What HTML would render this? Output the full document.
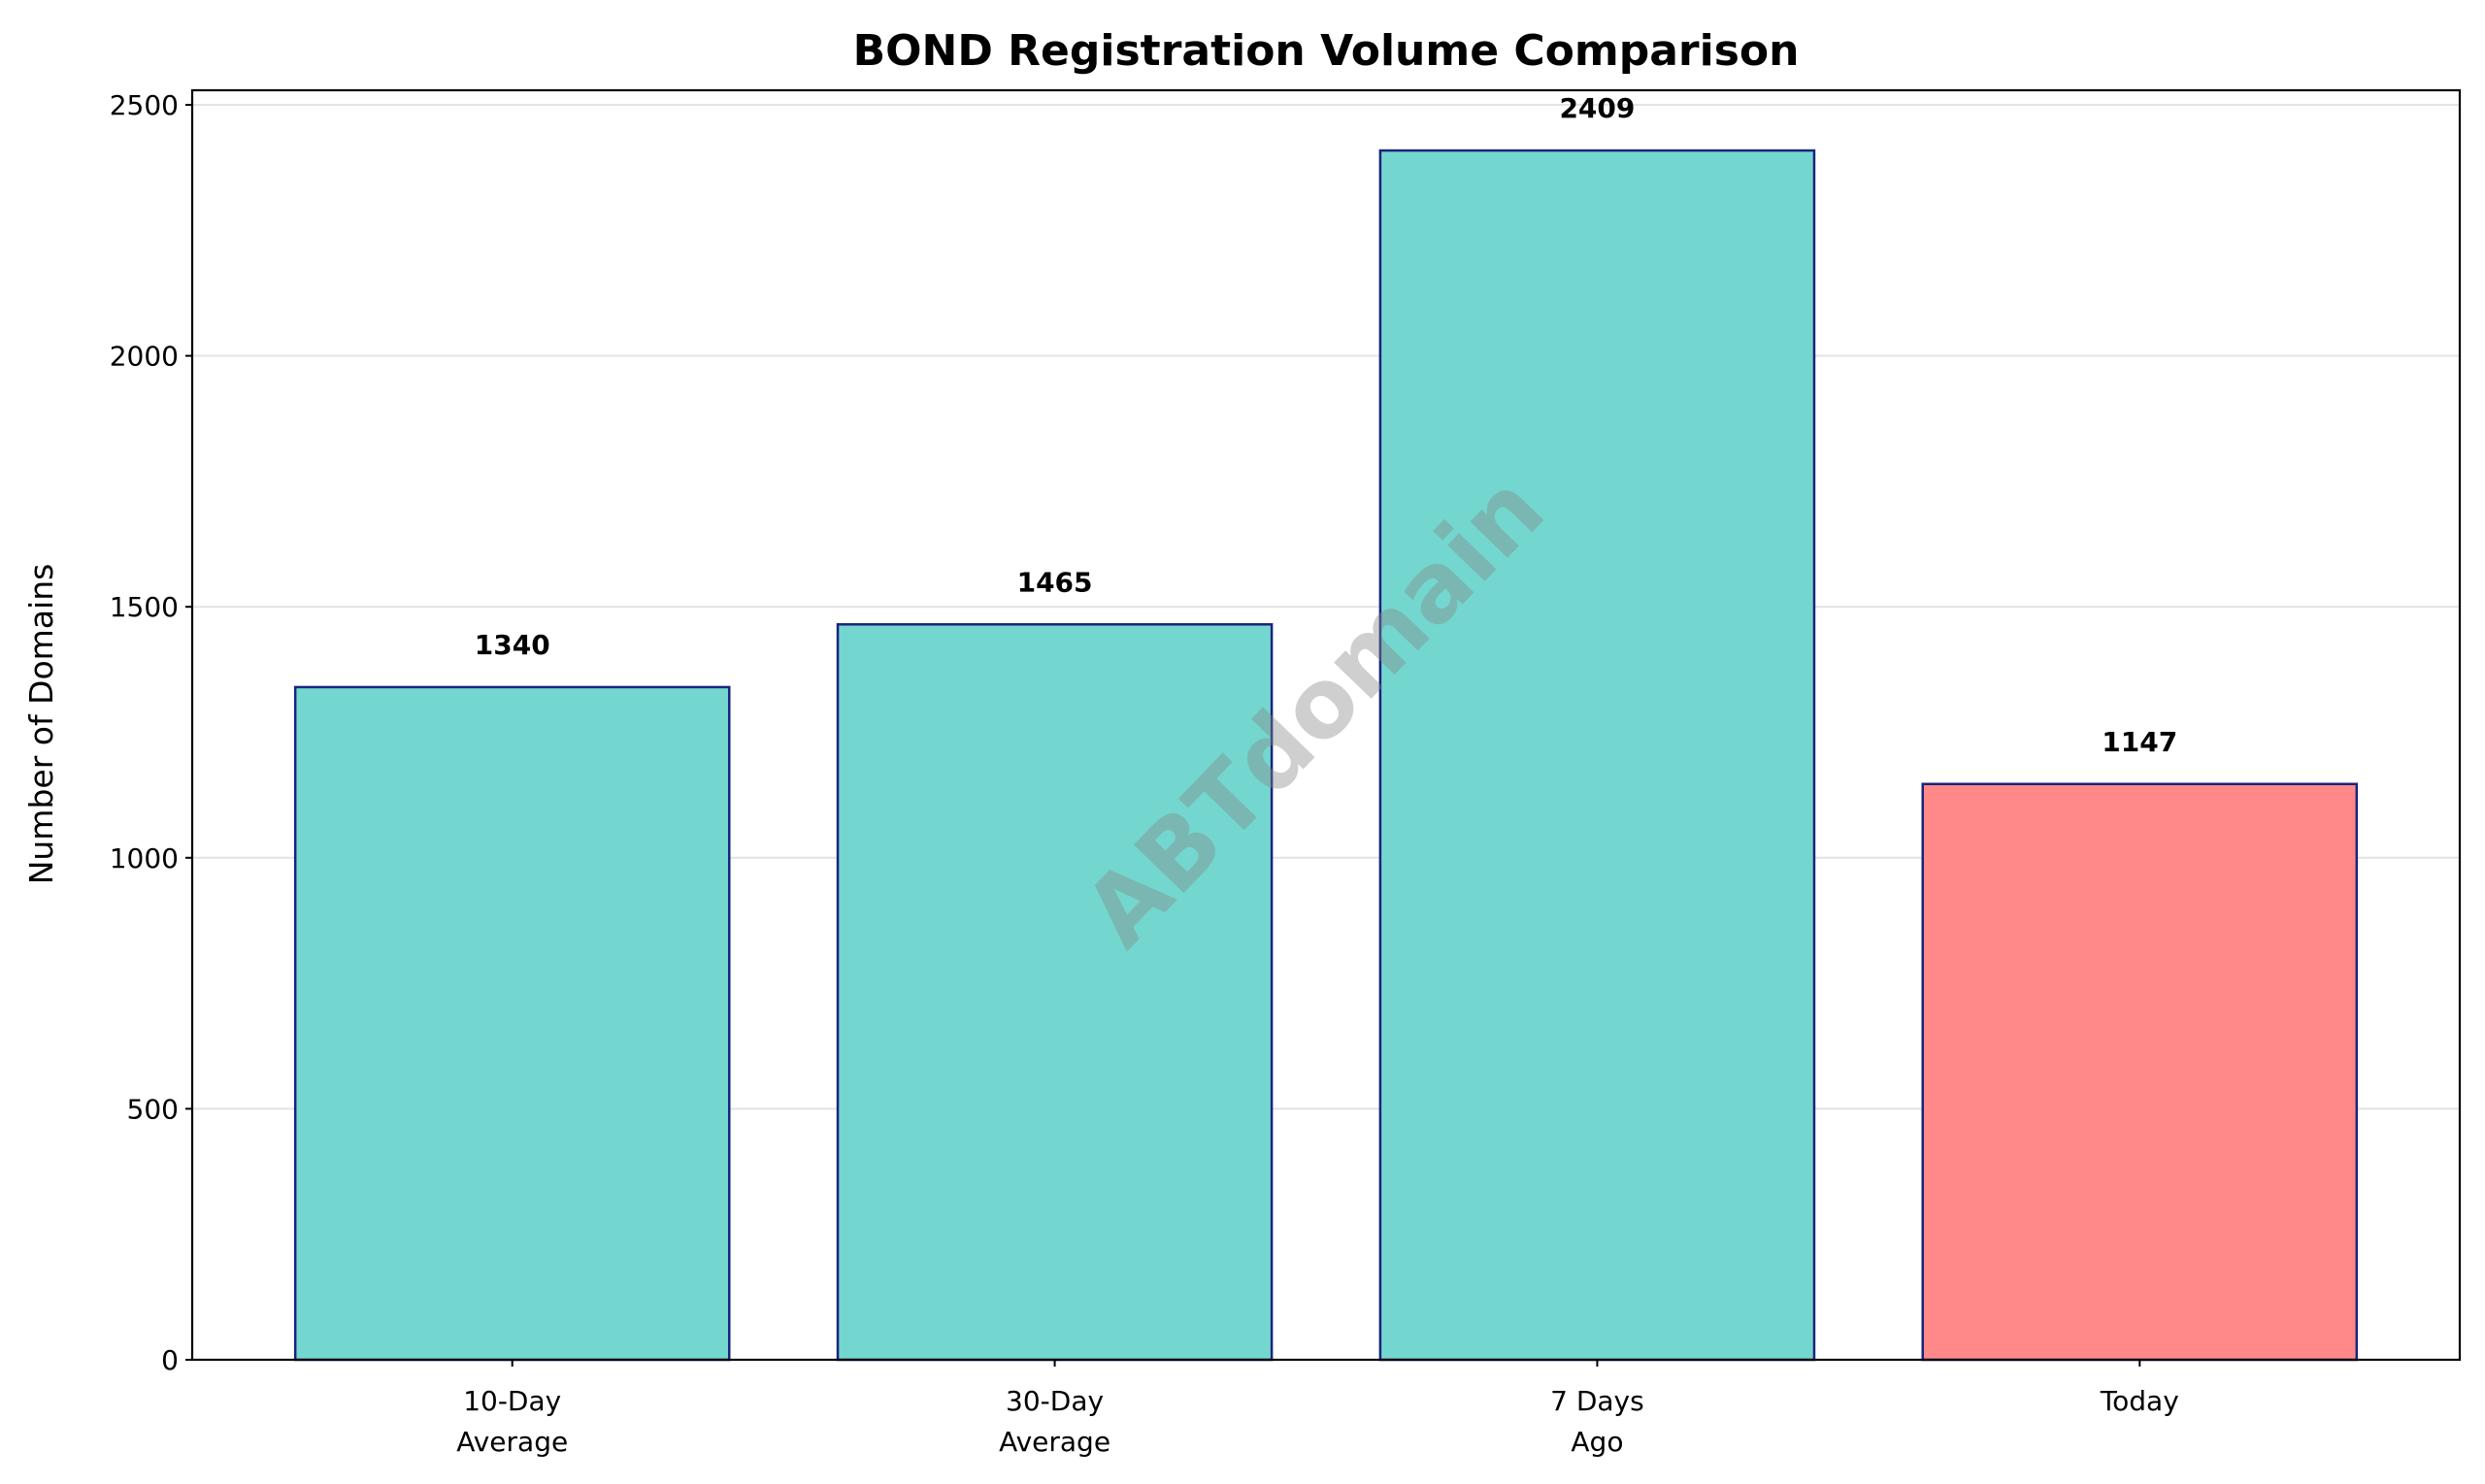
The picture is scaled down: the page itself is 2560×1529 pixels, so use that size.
<!DOCTYPE html>
<html><head><meta charset="utf-8"><style>
html,body{margin:0;padding:0;background:#fff;}
svg{display:block;font-family:"DejaVu Sans","Liberation Sans",sans-serif;}
</style></head><body>
<svg id="chart" width="2560" height="1529" viewBox="0 0 2560 1529" xmlns="http://www.w3.org/2000/svg">
<text x="1366" y="67" text-anchor="middle" font-size="44" font-weight="bold">BOND Registration Volume Comparison</text>
<g id="grid"></g>
<g id="bars"></g>
<text x="1368" y="760" text-anchor="middle" font-size="98" font-weight="bold" fill="#888" fill-opacity="0.4" transform="rotate(-46 1368 746)">ABTdomain</text>
<rect x="198" y="93" width="2336" height="1308" fill="none" stroke="#000" stroke-width="2.2"/>
<g id="yticks"></g>
<g id="xticks"></g>
<text x="0" y="0" transform="translate(54 746) rotate(-90)" text-anchor="middle" font-size="33">Number of Domains</text>
</svg>
<script>
const categories = [["10-Day","Average"],["30-Day","Average"],["7 Days","Ago"],["Today"]];
const values = [1340, 1465, 2409, 1147];
const colors = ["#73d7cf","#73d7cf","#73d7cf","#ff8989"];
const yTicks = [0, 500, 1000, 1500, 2000, 2500];

const L=198,R=2534,T=93,B=1401;
const yMax=2529, xMin=-0.59, xMax=3.59;
const y=v=>B-(v/yMax)*(B-T);
const x=i=>L+(i-xMin)/(xMax-xMin)*(R-L);
const bw=0.8*(x(1)-x(0));
const NS="http://www.w3.org/2000/svg";
function mk(tag,attrs,parent,text){const e=document.createElementNS(NS,tag);for(const k in attrs)e.setAttribute(k,attrs[k]);if(text!==undefined)e.textContent=text;parent.appendChild(e);return e;}
const grid=document.getElementById('grid'),bars=document.getElementById('bars'),yt=document.getElementById('yticks'),xt=document.getElementById('xticks');
yTicks.forEach(t=>{
  const g=mk('line',{x1:L,x2:R,y1:y(t),y2:y(t),stroke:'#e3e3e3','stroke-width':2},grid);
  
  
  const tk=mk('line',{x1:L-7,x2:L,y1:y(t),y2:y(t),stroke:'#000','stroke-width':2},yt);
  
  
  const lb=mk('text',{x:L-14,y:y(t)+10,'text-anchor':'end','font-size':28},yt,String(t));
  
  
});
values.forEach((v,i)=>{
  const r=mk('rect',{x:x(i)-bw/2,y:y(v),width:bw,height:B-y(v),fill:colors[i],stroke:'#1a237e','stroke-width':2.5},bars);
  
  
  const lb=mk('text',{x:x(i),y:y(v)-34,'text-anchor':'middle','font-size':28,'font-weight':'bold'},bars,String(v));
  
  
  const tk=mk('line',{x1:x(i),x2:x(i),y1:B,y2:B+7,stroke:'#000','stroke-width':2},xt);
  
  
  categories[i].forEach((line,j)=>{
    const t=mk('text',{x:x(i),y:B+52+j*42,'text-anchor':'middle','font-size':28},xt,line);
    
    
  });
});
</script>
</body></html>
